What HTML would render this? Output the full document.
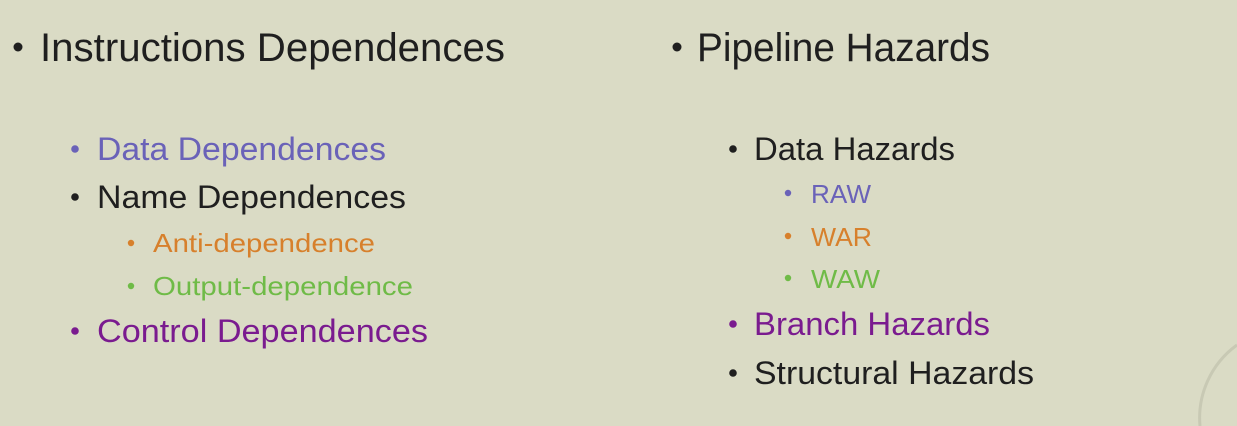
<!DOCTYPE html>
<html><head><meta charset="utf-8"><style>
html,body{margin:0;padding:0;background:#dadbc5;}
svg{display:block;}
text{font-family:"Liberation Sans",sans-serif;}
</style></head><body>
<svg width="1237" height="426" viewBox="0 0 1237 426" xmlns="http://www.w3.org/2000/svg">
<rect width="1237" height="426" fill="#dadbc5"/>
<path d="M1237 345 A 90 90 0 0 0 1200 426" fill="none" stroke="#c8c9b4" stroke-width="3"/>
<g fill="#1f1f1f">
<circle cx="18" cy="47" r="4.5"/>
<text x="40" y="61" font-size="40" textLength="465" lengthAdjust="spacingAndGlyphs">Instructions Dependences</text>
<circle cx="677" cy="47" r="4.5"/>
<text x="697" y="61" font-size="40" textLength="293" lengthAdjust="spacingAndGlyphs">Pipeline Hazards</text>
</g>
<g font-size="32">
<circle cx="75" cy="149" r="3.8" fill="#6a62b8"/>
<text x="97" y="160" fill="#6a62b8" textLength="289" lengthAdjust="spacingAndGlyphs">Data Dependences</text>
<circle cx="75" cy="197" r="3.8" fill="#1f1f1f"/>
<text x="97" y="208" fill="#1f1f1f" textLength="309" lengthAdjust="spacingAndGlyphs">Name Dependences</text>
<circle cx="75" cy="331" r="3.8" fill="#7a1b8f"/>
<text x="97" y="342" fill="#7a1b8f" textLength="331" lengthAdjust="spacingAndGlyphs">Control Dependences</text>
<circle cx="733" cy="149" r="3.8" fill="#1f1f1f"/>
<text x="754" y="160" fill="#1f1f1f" textLength="201" lengthAdjust="spacingAndGlyphs">Data Hazards</text>
<circle cx="733" cy="324" r="3.8" fill="#7a1b8f"/>
<text x="754" y="335" fill="#7a1b8f" textLength="236" lengthAdjust="spacingAndGlyphs">Branch Hazards</text>
<circle cx="733" cy="373" r="3.8" fill="#1f1f1f"/>
<text x="754" y="384" fill="#1f1f1f" textLength="280" lengthAdjust="spacingAndGlyphs">Structural Hazards</text>
</g>
<g font-size="26">
<circle cx="131" cy="243" r="3.2" fill="#d7802c"/>
<text x="153" y="252" fill="#d7802c" textLength="222" lengthAdjust="spacingAndGlyphs">Anti-dependence</text>
<circle cx="131" cy="286" r="3.2" fill="#6fbb47"/>
<text x="153" y="295" fill="#6fbb47" textLength="260" lengthAdjust="spacingAndGlyphs">Output-dependence</text>
<circle cx="788" cy="193" r="3.2" fill="#6a62b8"/>
<text x="811" y="203" fill="#6a62b8" textLength="60" lengthAdjust="spacingAndGlyphs">RAW</text>
<circle cx="788" cy="236" r="3.2" fill="#d7802c"/>
<text x="811" y="246" fill="#d7802c" textLength="61" lengthAdjust="spacingAndGlyphs">WAR</text>
<circle cx="788" cy="278" r="3.2" fill="#6fbb47"/>
<text x="811" y="288" fill="#6fbb47" textLength="69" lengthAdjust="spacingAndGlyphs">WAW</text>
</g>
</svg>
</body></html>
